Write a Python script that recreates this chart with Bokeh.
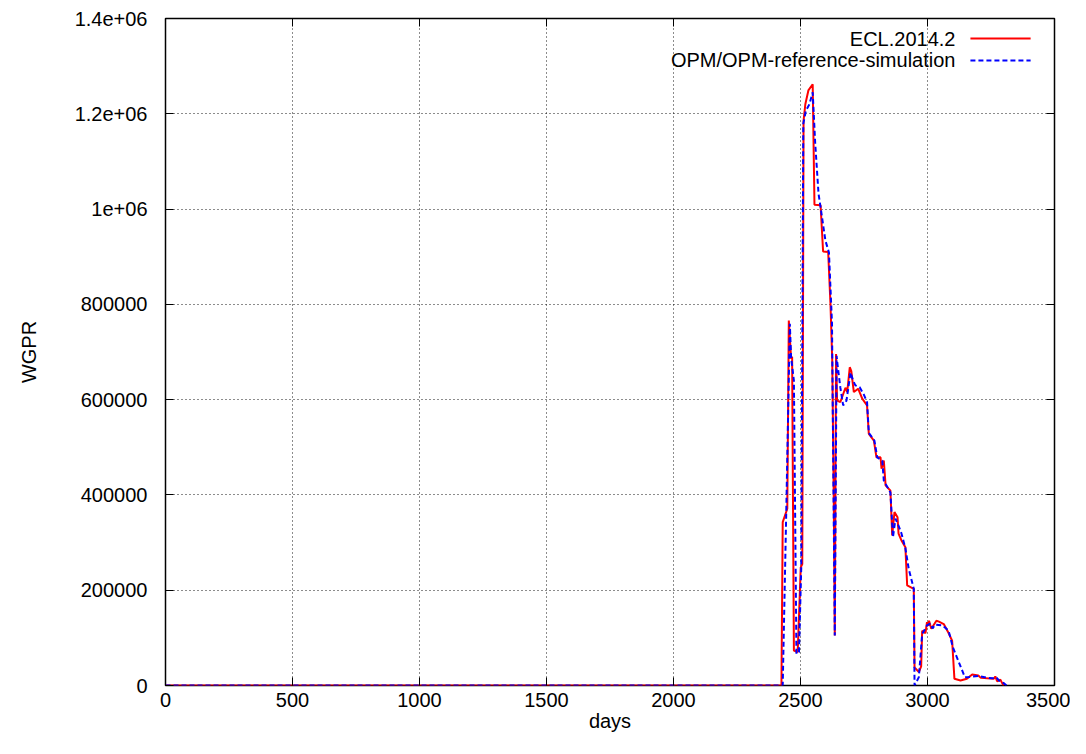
from bokeh.plotting import figure
from bokeh.models import Range1d, FixedTicker, LinearAxis, Label, Arrow
from bokeh.embed import file_html
from bokeh.resources import INLINE

# ---- data ----
ecl_days = [0, 2425, 2430, 2448, 2454, 2463, 2467, 2474, 2489, 2501, 2507, 2512, 2519, 2531,
            2548, 2555, 2579, 2589, 2609, 2618, 2625, 2631, 2635, 2640, 2644, 2657, 2677,
            2684, 2694, 2700, 2710, 2727, 2743, 2762, 2769, 2789, 2799, 2815, 2819, 2828,
            2835, 2854, 2861, 2870, 2882, 2886, 2897, 2913, 2920, 2946, 2949, 2966, 2975,
            2979, 2992, 2998, 3003, 3006, 3015, 3035, 3045, 3064, 3083, 3097, 3106, 3130,
            3155, 3176, 3200, 3210, 3261, 3267, 3274, 3287, 3294, 3300]
ecl_wgpr = [0, 0, 343000, 371000, 766000, 686000, 690000, 73500, 70000, 248000, 255000,
            1185000, 1220000, 1249000, 1262000, 1009000, 1008000, 911000, 910000, 801000,
            682000, 388000, 105000, 696000, 598000, 595000, 625000, 616000, 668000, 660000,
            616000, 623000, 602000, 588000, 528000, 514000, 479000, 479000, 455000, 472000,
            420000, 409000, 315000, 364000, 353000, 319000, 305000, 290000, 210000, 203000,
            38000, 28000, 40000, 115000, 110000, 133000, 125000, 136000, 119000, 136000,
            134000, 129000, 110000, 94000, 14000, 10500, 14000, 23000, 21000, 16000, 14000,
            19000, 9000, 12000, 5000, 0]

opm_days = [0, 2430, 2444, 2458, 2463, 2474, 2484, 2494, 2503, 2511, 2521, 2535, 2548, 2558,
            2571, 2579, 2598, 2612, 2624, 2635, 2642, 2647, 2657, 2668, 2681, 2697, 2707,
            2716, 2733, 2749, 2762, 2769, 2791, 2802, 2822, 2828, 2854, 2864, 2874, 2887,
            2897, 2913, 2926, 2946, 2949, 2966, 2979, 2998, 3010, 3020, 3030, 3060, 3083,
            3100, 3147, 3165, 3200, 3240, 3255, 3271, 3282, 3300, 3311]
opm_wgpr = [0, 0, 367000, 759000, 689000, 640000, 66500, 70000, 248000, 1179000, 1206000,
            1220000, 1245000, 1137000, 1032000, 1004000, 934000, 909000, 760000, 105000,
            692000, 668000, 625000, 588000, 598000, 657000, 640000, 630000, 626000, 611000,
            595000, 530000, 514000, 479000, 472000, 430000, 405000, 311000, 350000, 334000,
            320000, 288000, 245000, 203000, 0, 17500, 108000, 126000, 130000, 120000,
            128000, 126000, 115000, 80000, 17500, 18000, 20000, 16000, 15000, 17000, 10000,
            5000, 0]

x_ticks = [0, 500, 1000, 1500, 2000, 2500, 3000, 3500]
y_ticks = [0, 200000, 400000, 600000, 800000, 1000000, 1200000, 1400000]
y_tick_labels = ["0", "200000", "400000", "600000", "800000", "1e+06", "1.2e+06", "1.4e+06"]
series_names = ["ECL.2014.2", "OPM/OPM-reference-simulation"]

FONT = "Liberation Sans"
FS = "20px"

p = figure(width=1070, height=738, output_backend="svg", toolbar_location=None,
           x_range=Range1d(0, 3500), y_range=Range1d(0, 1400000),
           min_border_left=165, min_border_right=16, min_border_top=18, min_border_bottom=53,
           x_axis_label="days", y_axis_label="WGPR")
p.background_fill_color = "white"
p.border_fill_color = "white"
p.outline_line_color = "black"
p.outline_line_width = 1.5

p.xaxis.ticker = FixedTicker(ticks=x_ticks)
p.yaxis.ticker = FixedTicker(ticks=y_ticks)
p.yaxis.major_label_overrides = {t: l for t, l in zip(y_ticks, y_tick_labels)}
p.xaxis.major_label_overrides = {t: str(t) for t in x_ticks}

for ax in (p.xaxis[0], p.yaxis[0]):
    ax.axis_line_color = None
    ax.major_tick_in = 8
    ax.major_tick_out = 0
    ax.major_tick_line_color = "black"
    ax.minor_tick_line_color = None
    ax.major_label_text_font = FONT
    ax.major_label_text_font_size = FS
    ax.major_label_text_color = "black"
    ax.axis_label_text_font = FONT
    ax.axis_label_text_font_size = FS
    ax.axis_label_text_font_style = "normal"
    ax.axis_label_text_color = "black"

p.xaxis.major_label_standoff = 7
p.xaxis.axis_label_standoff = 0
p.yaxis.major_label_standoff = 18
p.yaxis.axis_label_standoff = 32

# mirrored ticks on top and right
for loc, ticks in (("right", y_ticks), ("above", x_ticks)):
    ax = LinearAxis(ticker=FixedTicker(ticks=ticks),
                    major_label_overrides={t: "" for t in ticks})
    ax.axis_line_color = None
    ax.major_tick_in = 8
    ax.major_tick_out = 0
    ax.major_tick_line_color = "black"
    ax.minor_tick_line_color = None
    ax.major_label_standoff = 0
    ax.major_label_text_font_size = "0px"
    p.add_layout(ax, loc)

p.xgrid.ticker = FixedTicker(ticks=x_ticks)
p.ygrid.ticker = FixedTicker(ticks=y_ticks)
p.grid.grid_line_color = "black"
p.grid.grid_line_dash = "1 3"
p.grid.grid_line_width = 1
p.grid.grid_line_alpha = 0.9

p.line(ecl_days, ecl_wgpr, line_color="#ff0000", line_width=2)
p.line(opm_days, opm_wgpr, line_color="#0000ff", line_width=2, line_dash="5 3")

# legend (gnuplot style: text right aligned, sample on the right), placed in the fixed data frame
leg_y = [1358000, 1312000]
styles = [dict(line_color="#ff0000", line_dash="solid"), dict(line_color="#0000ff", line_dash="5 3")]
for name, yy, st in zip(series_names, leg_y, styles):
    p.add_layout(Label(x=3110, y=yy, text=name,
                       text_align="right", text_baseline="middle",
                       text_font=FONT, text_font_size=FS, text_color="black"))
    p.add_layout(Arrow(end=None, x_start=3169, y_start=yy, x_end=3406, y_end=yy,
                       line_width=2, **st))

open("out.html", "w").write(file_html(p, INLINE))
